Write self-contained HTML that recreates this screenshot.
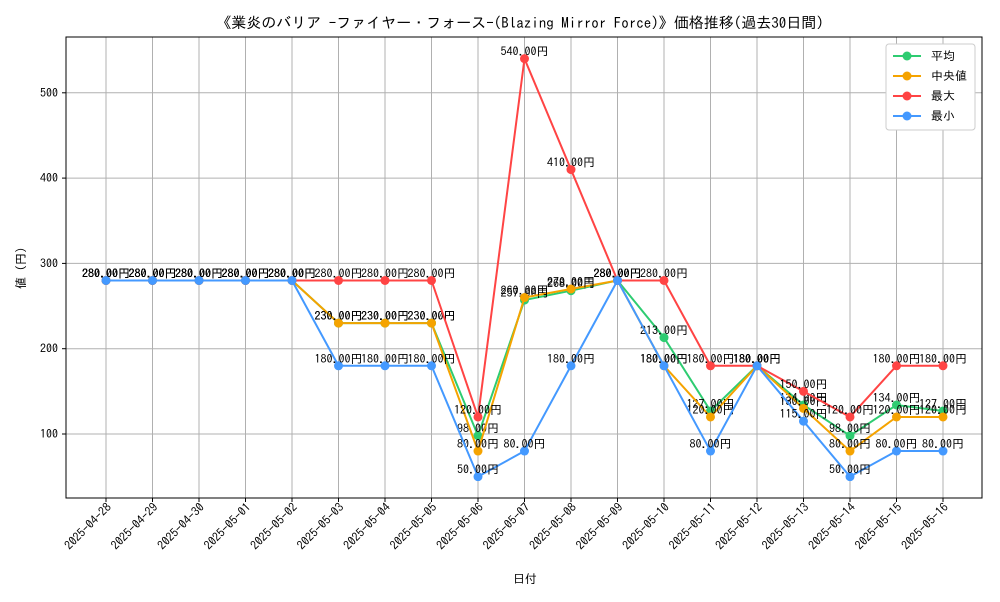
<!DOCTYPE html>
<html><head><meta charset="utf-8"><style>
body{margin:0;background:#fff;font-family:"IPAGothic","Noto Sans CJK JP",sans-serif}
svg text{font-family:"IPAGothic","Noto Sans CJK JP",sans-serif}
</style></head><body>
<svg id="c" width="1000" height="600" xmlns="http://www.w3.org/2000/svg">
<rect width="1000" height="600" fill="#fff"/>
<text x="520" y="28" text-anchor="middle" font-size="15">《業炎のバリア -ファイヤー・フォース-(Blazing Mirror Force)》価格推移(過去30日間)</text>
<g id="grid"></g>
<g id="series"></g>
<rect x="66" y="37" width="916" height="461" fill="none" stroke="#000" stroke-width="1"/>
<text x="525" y="583" text-anchor="middle" font-size="12">日付</text>
<text transform="translate(25,268) rotate(-90)" text-anchor="middle" font-size="12">値 (円)</text>
<g id="legend">
<rect x="886" y="44" width="89" height="86" fill="#fff" stroke="#ccc" rx="3"/>
</g>
</svg>
<script>
const dates=["2025-04-28","2025-04-29","2025-04-30","2025-05-01","2025-05-02","2025-05-03","2025-05-04","2025-05-05","2025-05-06","2025-05-07","2025-05-08","2025-05-09","2025-05-10","2025-05-11","2025-05-12","2025-05-13","2025-05-14","2025-05-15","2025-05-16"];
const meanVals=[280,280,280,280,280,230,230,230,98,257,268,280,213,127,180,134,98,134,127];
const medianVals=[280,280,280,280,280,230,230,230,80,260,270,280,180,120,180,130,80,120,120];
const maxVals=[280,280,280,280,280,280,280,280,120,540,410,280,280,180,180,150,120,180,180];
const minVals=[280,280,280,280,280,180,180,180,50,80,180,280,180,80,180,115,50,80,80];
const yTicks=[100,200,300,400,500];
const NS="http://www.w3.org/2000/svg";
const X=i=>106+i*(943-106)/(dates.length-1);
const Y=v=>519.3-v*0.853;
function mk(t,a,p){const e=document.createElementNS(NS,t);for(const k in a)e.setAttribute(k,a[k]);p.appendChild(e);return e;}
const grid=document.getElementById('grid');
yTicks.forEach(v=>{
 const l=mk('line',{x1:66,x2:982,y1:Y(v),y2:Y(v),stroke:'#b0b0b0','stroke-width':1},grid);
 
 
 mk('line',{x1:62,x2:66,y1:Y(v),y2:Y(v),stroke:'#000'},grid);
 const t=mk('text',{x:58,y:Y(v)+4,'text-anchor':'end','font-size':12},grid);t.textContent=v;
 
 
});
dates.forEach((d,i)=>{
 const l=mk('line',{x1:X(i),x2:X(i),y1:37,y2:498,stroke:'#b0b0b0','stroke-width':1},grid);
 
 
 mk('line',{x1:X(i),x2:X(i),y1:498,y2:502,stroke:'#000'},grid);
 const t=mk('text',{transform:`translate(${X(i)+6},508) rotate(-45)`,'text-anchor':'end','font-size':12},grid);t.textContent=d;
 
 
});
const series=[["平均",meanVals,"#2ecc71"],["中央値",medianVals,"#f5a300"],["最大",maxVals,"#ff4444"],["最小",minVals,"#4499ff"]];
const sg=document.getElementById('series'),lg=document.getElementById('legend');
series.forEach(([name,vals,col],s)=>{
 const g=mk('g',{},sg);
 
 
 mk('polyline',{points:vals.map((v,i)=>X(i)+','+Y(v)).join(' '),fill:'none',stroke:col,'stroke-width':2},g);
 vals.forEach((v,i)=>{
  const c=mk('circle',{cx:X(i),cy:Y(v),r:4.5,fill:col},g);
  
  
  const t=mk('text',{x:X(i),y:Y(v)-3,'text-anchor':'middle','font-size':12},g);t.textContent=v.toFixed(2)+'円';
  
  
 });
 const ly=56+s*20;
 mk('line',{x1:893,x2:921,y1:ly,y2:ly,stroke:col,'stroke-width':2},lg);
 mk('circle',{cx:907,cy:ly,r:4.5,fill:col},lg);
 const t=mk('text',{x:931,y:ly+4,'font-size':12},lg);t.textContent=name;
 
 
});
</script>
</body></html>
